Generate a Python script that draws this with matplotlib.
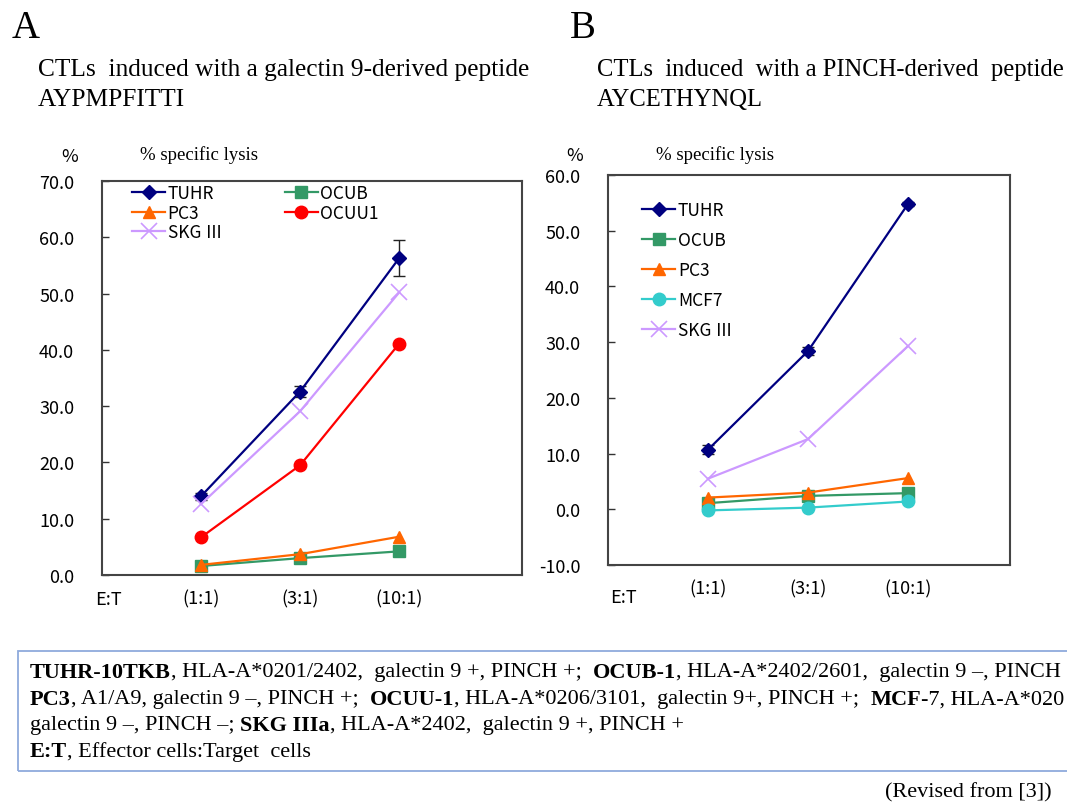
import matplotlib
matplotlib.use('Agg')
import matplotlib.pyplot as plt
from matplotlib.patches import Rectangle

# ========== 数据 ==========
ratios = ['(1:1)', '(3:1)', '(10:1)']

# Panel A: galectin 9 peptide
a_tuhr = [14.0, 32.6, 56.3]
a_tuhr_err = [0.6, 0.9, 3.2]
a_ocub = [1.6, 3.0, 4.2]
a_pc3 = [1.8, 3.7, 6.8]
a_ocuu1 = [6.7, 19.5, 41.1]
a_skg = [12.6, 29.1, 50.2]

# Panel B: PINCH peptide
b_tuhr = [10.7, 28.4, 54.8]
b_tuhr_err = [0.8, 0.7, 0.4]
b_ocub = [1.1, 2.4, 2.9]
b_pc3 = [2.1, 3.0, 5.6]
b_mcf7 = [-0.2, 0.3, 1.4]
b_skg = [5.5, 12.6, 29.3]

W, H = 1067, 803
SANS = ['Noto Sans CJK JP', 'DejaVu Sans']
SERIF = ['Liberation Serif', 'DejaVu Serif']

C_TUHR = '#000080'
C_OCUB = '#339966'
C_PC3 = '#ff6600'
C_OCUU = '#ff0000'
C_MCF7 = '#33cccc'
C_SKG = '#cc99ff'


def px_axes(fig, l, t, r, b):
    return fig.add_axes([l / W, 1 - b / H, (r - l) / W, (b - t) / H])


def style_axes(ax, ymin, ymax, xmax, et_x, et_y):
    ax.set_xlim(0, xmax)
    ax.set_ylim(ymin, ymax)
    ax.set_yticks(range(ymin, ymax + 1, 10))
    ax.set_yticklabels([f'{v:.1f}' for v in range(ymin, ymax + 1, 10)],
                       family=SANS, fontsize=13)
    ax.set_xticks([1, 2, 3])
    ax.set_xticklabels(ratios, family=SANS, fontsize=13)
    ax.tick_params(axis='y', direction='in', length=5, width=1, pad=20, color='#333333')
    ax.tick_params(axis='x', length=0, pad=10)
    for s in ax.spines.values():
        s.set_color('#444444')
        s.set_linewidth(1.5)
    ax.text(et_x, et_y, 'E:T', transform=ax.get_xaxis_transform(),
            ha='center', va='top', family=SANS, fontsize=13)


def series(ax, y, color, marker, ms, label, err=None, mew=1.0):
    x = [1, 2, 3]
    ax.plot(x, y, color=color, marker=marker, markersize=ms, lw=1.6,
            markeredgewidth=mew, label=label, zorder=3)
    if err is not None:
        ax.errorbar(x, y, yerr=err, fmt='none', ecolor='#222222', elinewidth=1,
                    capsize=4, capthick=1, zorder=2)


def draw_runs(fig, x, y, runs, size=16):
    """按顺序绘制粗体/常规混合文本"""
    r = fig.canvas.get_renderer()
    for txt, bold in runs:
        t = fig.text(x / W, 1 - y / H, txt, family=SERIF, fontsize=size,
                     fontweight='bold' if bold else 'normal', va='center', ha='left')
        bb = t.get_window_extent(renderer=r)
        x += bb.width


fig = plt.figure(figsize=(W / 100, H / 100), dpi=100)

# ========== Panel A ==========
axA = px_axes(fig, 102, 182, 522, 576)
series(axA, a_tuhr, C_TUHR, 'D', 7, 'TUHR', err=a_tuhr_err)
series(axA, a_ocub, C_OCUB, 's', 8, 'OCUB')
series(axA, a_pc3, C_PC3, '^', 9, 'PC3')
series(axA, a_ocuu1, C_OCUU, 'o', 9, 'OCUU1')
series(axA, a_skg, C_SKG, 'x', 11, 'SKG Ⅲ', mew=1.2)
style_axes(axA, 0, 70, 4.24, 0.06, -0.038)
h, l = axA.get_legend_handles_labels()
order = [0, 2, 4, 1, 3]
axA.legend([h[i] for i in order], [l[i] for i in order], ncol=2, loc='upper left',
           bbox_to_anchor=(0.055, 1.01), frameon=False, prop={'family': SANS, 'size': 12.5},
           handlelength=1.9, handletextpad=0.15, labelspacing=0.1, columnspacing=3.6,
           borderaxespad=0)

# ========== Panel B ==========
axB = px_axes(fig, 608, 176, 1010, 566)
series(axB, b_tuhr, C_TUHR, 'D', 7, 'TUHR', err=b_tuhr_err)
series(axB, b_ocub, C_OCUB, 's', 8, 'OCUB')
series(axB, b_pc3, C_PC3, '^', 9, 'PC3')
series(axB, b_mcf7, C_MCF7, 'o', 9, 'MCF7')
series(axB, b_skg, C_SKG, 'x', 11, 'SKG Ⅲ', mew=1.2)
style_axes(axB, -10, 60, 4.02, 0.15, -0.06)
axB.legend(loc='upper left', bbox_to_anchor=(0.068, 0.95), frameon=False,
           prop={'family': SANS, 'size': 12.5}, handlelength=1.9, handletextpad=0.15,
           labelspacing=0.69, borderaxespad=0)

# ========== 标题 ==========
fig.text(12 / W, 1 - 28 / H, 'A', family=SERIF, fontsize=28, va='center')
fig.text(570 / W, 1 - 28 / H, 'B', family=SERIF, fontsize=28, va='center')
fig.text(38 / W, 1 - 70 / H, 'CTLs  induced with a galectin 9-derived peptide',
         family=SERIF, fontsize=18.3, va='center')
fig.text(38 / W, 1 - 100 / H, 'AYPMPFITTI', family=SERIF, fontsize=18.3, va='center')
fig.text(597 / W, 1 - 70 / H, 'CTLs  induced  with a PINCH-derived  peptide',
         family=SERIF, fontsize=17.7, va='center')
fig.text(597 / W, 1 - 100 / H, 'AYCETHYNQL', family=SERIF, fontsize=17.7, va='center')

fig.text(70 / W, 1 - 157 / H, '%', family=SANS, fontsize=13, ha='center', va='center')
fig.text(575 / W, 1 - 156 / H, '%', family=SANS, fontsize=13, ha='center', va='center')
fig.text(140 / W, 1 - 155 / H, '% specific lysis', family=SERIF, fontsize=13.5, va='center')
fig.text(656 / W, 1 - 155 / H, '% specific lysis', family=SERIF, fontsize=13.5, va='center')

# ========== 注释框（右侧按原图截断） ==========
fig.patches.append(Rectangle((18 / W, 1 - 772 / H), 1.2, 120 / H, transform=fig.transFigure,
                             fill=False, edgecolor='#8faadc', linewidth=1.3))
draw_runs(fig, 30, 673, [('TUHR-10TKB', True), (', HLA-A*0201/2402,  galectin 9 +, PINCH +;  ', False),
                         ('OCUB-1', True), (', HLA-A*2402/2601,  galectin 9 –, PINCH', False)])
draw_runs(fig, 30, 700, [('PC3', True), (', A1/A9, galectin 9 –, PINCH +;  ', False),
                         ('OCUU-1', True), (', HLA-A*0206/3101,  galectin 9+, PINCH +;  ', False),
                         ('MCF', True), ('-7, HLA-A*020', False)])
draw_runs(fig, 30, 726, [('galectin 9 –, PINCH –; ', False), ('SKG IIIa', True),
                         (', HLA-A*2402,  galectin 9 +, PINCH +', False)])
draw_runs(fig, 30, 752, [('E:T', True), (', Effector cells:Target  cells', False)])
fig.text(1052 / W, 1 - 793 / H, '(Revised from [3])', family=SERIF, fontsize=16,
         ha='right', va='center')

fig.savefig('out.png', dpi=100)
